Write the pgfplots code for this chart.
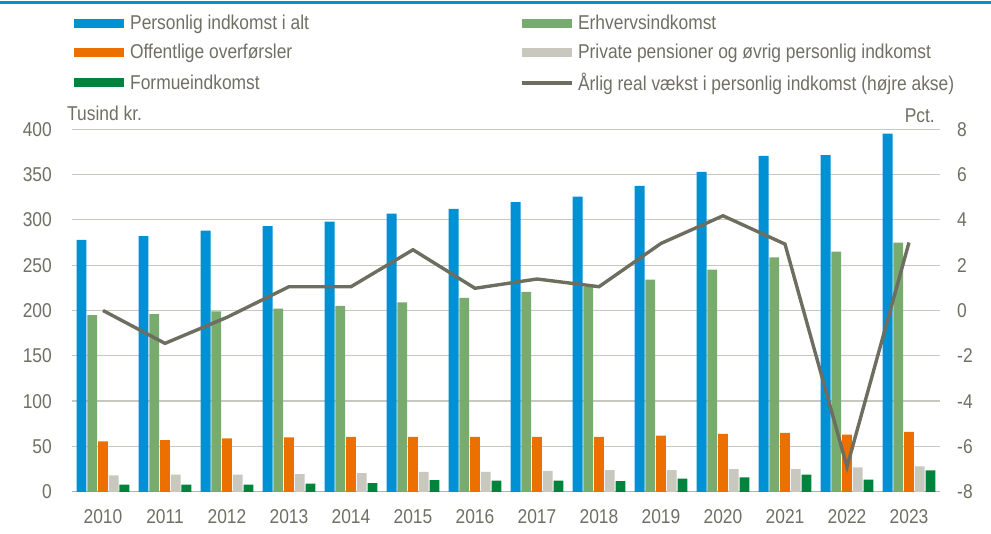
\documentclass[border=0pt]{standalone}
\usepackage{pgfplots}
\pgfplotsset{compat=1.18}
\usepackage{pgfplotstable}
\usepackage{fontspec}
\setmainfont[FakeStretch=0.87]{Liberation Sans}
\definecolor{cblue}{RGB}{0,144,212}
\definecolor{cgreen}{RGB}{120,171,110}
\definecolor{corange}{RGB}{236,112,0}
\definecolor{cgrey}{RGB}{200,200,190}
\definecolor{cdkgreen}{RGB}{0,132,61}
\definecolor{cline}{RGB}{110,110,96}
\definecolor{ctext}{RGB}{112,111,100}
\definecolor{cgrid}{RGB}{200,200,190}
\definecolor{caxis}{RGB}{180,180,170}

\pgfplotstableread{
x tot erh off pri for vaekst
0 278 195 55.5 18 8 0.0
1 282 196 57 19 8 -1.45
2 288 199 59 19 8 -0.3
3 293 202 60 19.5 9 1.05
4 298 205 60.5 20.5 9.5 1.05
5 307 209 60.5 22 12.8 2.68
6 312 214 60.5 22 12.4 0.98
7 319.5 220.5 60.5 23 12.4 1.39
8 325.5 226 60.5 24 11.7 1.05
9 337.5 234 62 24 14.6 2.96
10 353 245 64 25 16 4.18
11 370.5 258.5 65 25 19 2.93
12 371.5 265 63 27 13.5 -6.9
13 395 275 66 28 23.7 3.0
}\data

\newcommand{\bigf}{\fontsize{20}{24}\selectfont}

\pgfplotsset{
  mybar/.style={ybar, bar width=9.8pt, draw=none, forget plot},
}

\begin{document}
\begin{tikzpicture}
\begin{axis}[
  width=868pt, height=362.6pt, scale only axis,
  xmin=-0.5, xmax=13.5, ymin=0, ymax=400,
  xtick={0,...,13},
  xticklabels={2010,2011,2012,2013,2014,2015,2016,2017,2018,2019,2020,2021,2022,2023},
  ytick={0,50,...,400},
  yticklabels={0,50,100,150,200,250,300,350,400},
  major tick length=0,
  axis x line*=bottom, axis y line*=left,
  axis line style={-},
  y axis line style={draw=none},
  x axis line style={draw=caxis, line width=1.3pt},
  ymajorgrids, grid style={cgrid, line width=1.3pt},
  tick label style={font=\bigf, text=ctext, inner sep=0pt},
  y tick label style={anchor=east, xshift=-20pt},
  x tick label style={anchor=north, yshift=-18pt},
  legend columns=2,
  legend cell align=left,
  legend image code/.code={\draw[#1] (0pt,0pt) -- (50pt,0pt);},
  legend style={at={(-0.0035,1.320)}, anchor=north west, draw=none, fill=none,
    font=\bigf, text=ctext, inner sep=0pt, row sep=9pt,
    /tikz/every even column/.append style={column sep=206pt}},
]
\addplot[mybar, fill=cblue, bar shift=-21.4pt] table[x=x,y=tot]{\data};
\addplot[mybar, fill=cgreen, bar shift=-10.7pt] table[x=x,y=erh]{\data};
\addplot[mybar, fill=corange, bar shift=0pt] table[x=x,y=off]{\data};
\addplot[mybar, fill=cgrey, bar shift=10.7pt] table[x=x,y=pri]{\data};
\addplot[mybar, fill=cdkgreen, bar shift=21.4pt] table[x=x,y=for]{\data};
\addlegendimage{cblue, line width=9pt}
\addlegendentry{Personlig indkomst i alt}
\addlegendimage{cgreen, line width=9pt}
\addlegendentry{Erhvervsindkomst}
\addlegendimage{corange, line width=9pt}
\addlegendentry{Offentlige overførsler}
\addlegendimage{cgrey, line width=9pt}
\addlegendentry{Private pensioner og øvrig personlig indkomst}
\addlegendimage{cdkgreen, line width=9pt}
\addlegendentry{Formueindkomst}
\addlegendimage{cline, line width=3.5pt}
\addlegendentry{Årlig real vækst i personlig indkomst (højre akse)}
\end{axis}
\begin{axis}[
  width=868pt, height=362.6pt, scale only axis,
  xmin=-0.5, xmax=13.5, ymin=-8, ymax=8,
  ytick={-8,-6,...,8},
  yticklabels={-8,-6,-4,-2,0,2,4,6,8},
  axis y line*=right, axis x line=none,
  axis line style={-},
  y axis line style={draw=none},
  major tick length=0,
  tick label style={font=\bigf, text=ctext, inner sep=0pt},
  y tick label style={anchor=west, xshift=17pt},
]
\addplot[cline, line width=3.4pt, mark=none] table[x=x,y=vaekst]{\data};
\end{axis}
\node[anchor=base west, inner sep=0pt, font=\bigf, text=ctext] at (-5pt,371.1pt) {Tusind kr.};
\node[anchor=base east, inner sep=0pt, font=\bigf, text=ctext] at (863pt,369.1pt) {Pct.};
\fill[cblue] (-72pt,487.8pt) rectangle (919pt,490.3pt);
\useasboundingbox (-72pt,-41.2pt) rectangle (919pt,491.8pt);
\end{tikzpicture}
\end{document}
